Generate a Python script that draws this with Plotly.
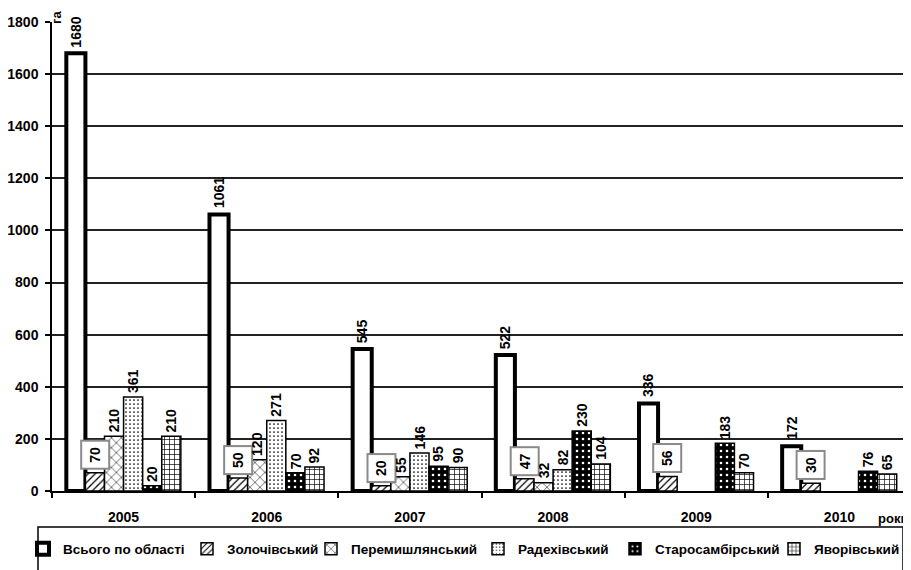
import plotly.graph_objects as go

years = ["2005", "2006", "2007", "2008", "2009", "2010"]
series_names = ["Всього по області", "Золочівський", "Перемишлянський",
                "Радехівський", "Старосамбірський", "Яворівський"]
vsogo = [1680, 1061, 545, 522, 336, 172]
zolochiv = [70, 50, 20, 47, 56, 30]
peremyshl = [210, 120, 55, 32, None, None]
radekhiv = [361, 271, 146, 82, None, None]
starosambir = [20, 70, 95, 230, 183, 76]
yavoriv = [210, 92, 90, 104, 70, 65]
y_ticks = [0, 200, 400, 600, 800, 1000, 1200, 1400, 1600, 1800]

series_values = [vsogo, zolochiv, peremyshl, radekhiv, starosambir, yavoriv]

FONT = "Liberation Sans, Arial, sans-serif"
W, H = 911, 570
# page has an 8px body margin; plot area in page coords: x 52..911, y 22..491
L, R, T, B = 44, 8, 14, 87
PW, PH = W - L - R, H - T - B
PX0, PY1 = 52, 491


def fx(px):
    return (px - PX0) / PW


def fy(py):
    return (PY1 - py) / PH


styles = [
    dict(shape="", bg="white", fg="black", size=8, sol=0.3, lw=4),
    dict(shape="/", bg="white", fg="black", size=5, sol=0.25, lw=1.5),
    dict(shape="x", bg="white", fg="black", size=7, sol=0.15, lw=1.5),
    dict(shape=".", bg="white", fg="black", size=4, sol=0.15, lw=1.5),
    dict(shape=".", bg="black", fg="white", size=6, sol=0.15, lw=1.5),
    dict(shape="+", bg="white", fg="black", size=5, sol=0.25, lw=1.5),
]

legend_text_x = [63, 227, 351, 518, 655, 814]

fig = go.Figure()
for i, (name, vals, st) in enumerate(zip(series_names, series_values, styles)):
    fig.add_trace(go.Bar(
        x=years, y=vals, name=name,
        marker=dict(
            color="white",
            line=dict(color="black", width=st["lw"]),
            pattern=dict(shape=st["shape"], bgcolor=st["bg"], fgcolor=st["fg"],
                         size=st["size"], solidity=st["sol"], fillmode="replace"),
        ),
        legend="legend" if i == 0 else f"legend{i + 1}",
    ))

n = len(series_names)
annotations = []
for i, vals in enumerate(series_values):
    off = -0.4 + (i + 0.5) * 0.8 / n
    for j, v in enumerate(vals):
        if v is None:
            continue
        a = dict(x=j + off, y=v, xref="x", yref="y", text=str(v), showarrow=False,
                 textangle=-90, yanchor="bottom", xanchor="center",
                 font=dict(family=FONT, size=14, color="black", weight="bold"))
        if i == 1:
            a.update(bgcolor="white", bordercolor="#8a8a8a", borderwidth=2,
                     borderpad=5, yshift=3)
        else:
            a.update(yshift=4 if i == 0 else 2)
        annotations.append(a)

annotations.append(dict(x=fx(56), y=fy(18), xref="paper", yref="paper", text="га",
                        showarrow=False, textangle=-90, xanchor="center", yanchor="middle",
                        font=dict(family=FONT, size=13, color="black", weight="bold")))
annotations.append(dict(x=fx(910), y=fy(518), xref="paper", yref="paper", text="роки",
                        showarrow=False, xanchor="right", yanchor="middle",
                        font=dict(family=FONT, size=13, color="black", weight="bold")))

layout_legends = {}
for i in range(n):
    key = "legend" if i == 0 else f"legend{i + 1}"
    layout_legends[key] = dict(
        x=fx(legend_text_x[i] - 40), y=fy(549), xanchor="left", yanchor="middle",
        orientation="h", bgcolor="rgba(0,0,0,0)", borderwidth=0,
        font=dict(family=FONT, size=13.5, color="black", weight="bold"),
        itemwidth=30,
    )

fig.update_layout(
    width=W, height=H,
    margin=dict(l=L, r=R, t=T, b=B, pad=0, autoexpand=False),
    paper_bgcolor="white", plot_bgcolor="white",
    barmode="group", bargap=0.2, bargroupgap=0,
    showlegend=True,
    annotations=annotations,
    shapes=[dict(type="rect", xref="paper", yref="paper",
                 x0=fx(38), x1=fx(903), y0=fy(527), y1=fy(585),
                 line=dict(color="black", width=1.5), fillcolor="rgba(0,0,0,0)")],
    xaxis=dict(
        type="category", range=[-0.5, 5.5],
        showline=True, linecolor="black", linewidth=1.5,
        ticks="outside", tickson="boundaries", ticklen=5, tickcolor="black", tickwidth=1.5,
        showgrid=False, ticklabelstandoff=12,
        tickfont=dict(family=FONT, size=14, color="black", weight="bold"),
    ),
    yaxis=dict(
        range=[0, 1800], tickvals=y_ticks,
        showline=True, linecolor="black", linewidth=1.5,
        ticks="outside", ticklen=5, tickcolor="black", tickwidth=1.5,
        showgrid=True, gridcolor="#222222", gridwidth=1.5, zeroline=False,
        tickfont=dict(family=FONT, size=14, color="black", weight="bold"),
        ticklabelstandoff=4,
    ),
    **layout_legends,
)

fig.write_html("out.html")
